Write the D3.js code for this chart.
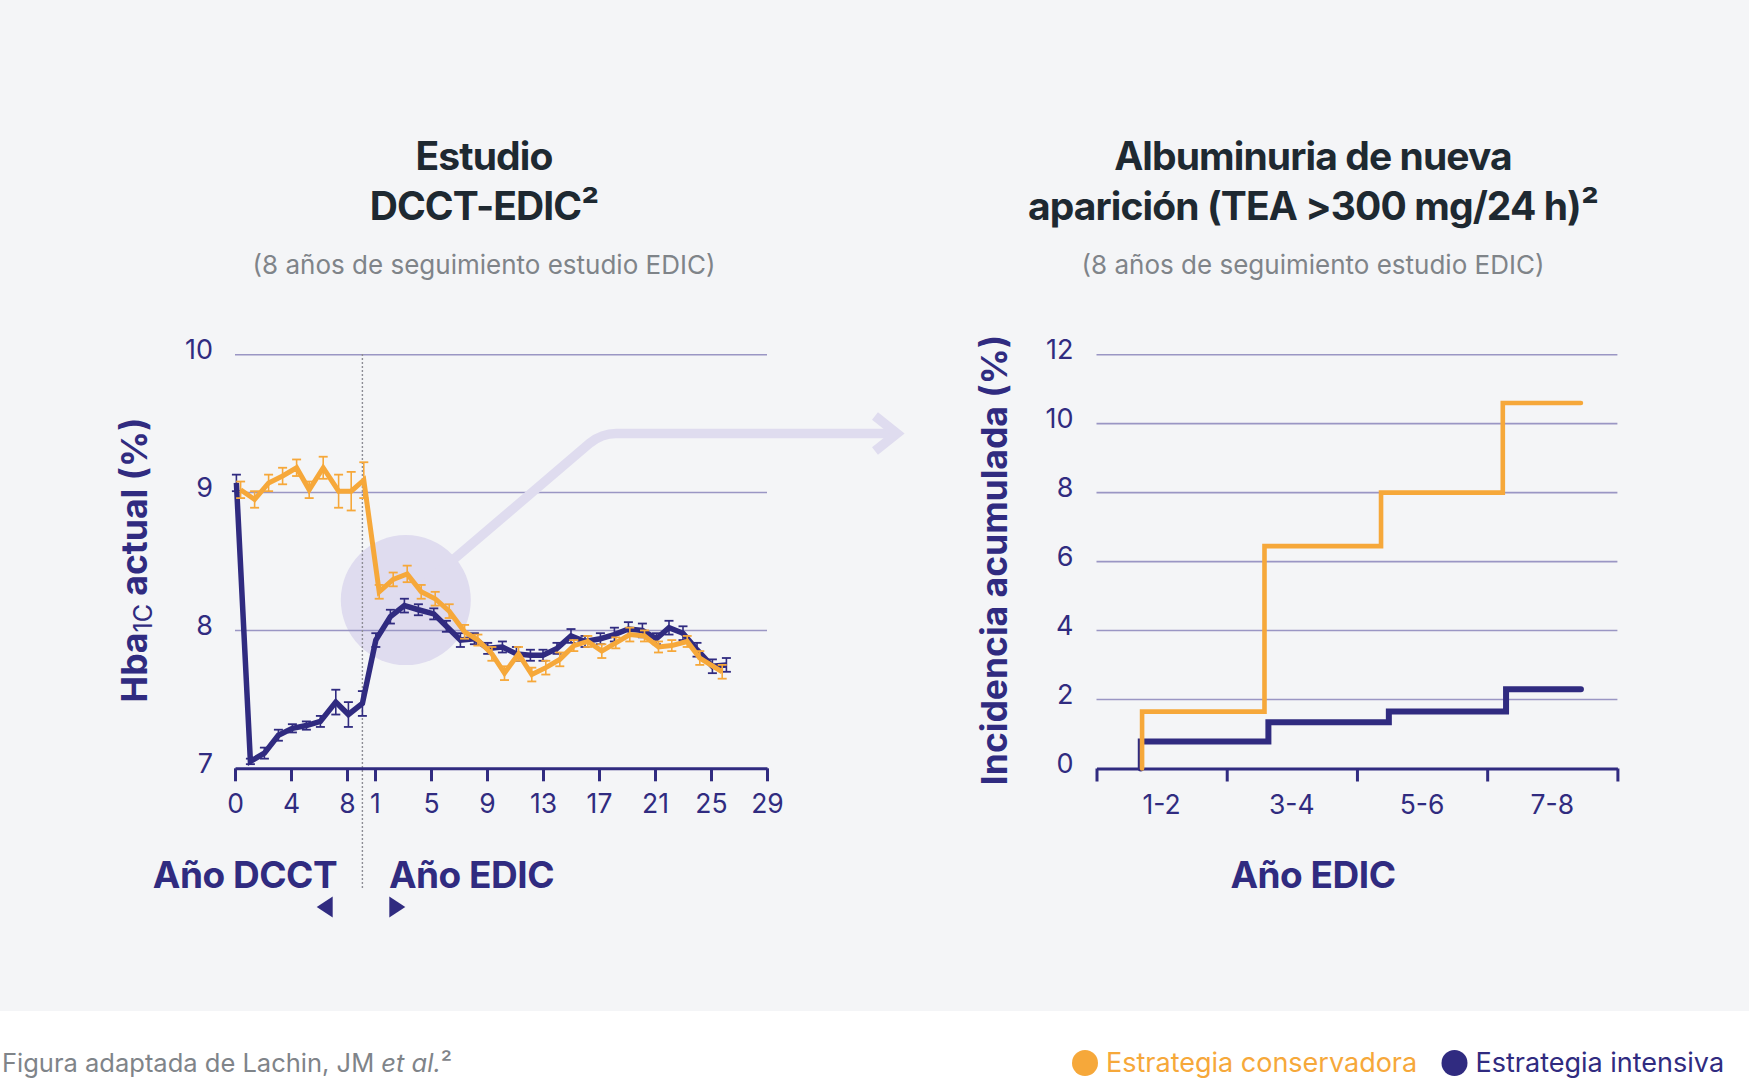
<!DOCTYPE html>
<html><head><meta charset="utf-8">
<script src="https://cdn.jsdelivr.net/npm/d3@7"></script>
<style>
html,body{margin:0;padding:0;background:#fff;}
svg{display:block;font-family:Inter,"Noto Sans",sans-serif;}
</style></head><body>
<svg id="c" width="1749" height="1083"></svg>
<script>
// ---------------- DATA ----------------
const seriesNames = ["Estrategia conservadora", "Estrategia intensiva"];

// Left chart: HbA1c (%) over time. x = continuous study time: DCCT year t, EDIC year e plotted at 9 + e
const dcctTicks = [0, 4, 8];
const edicTicks = [1, 5, 9, 13, 17, 21, 25, 29];
const hbaYTicks = [7, 8, 9, 10];

const convX = [0.4, 1.4, 2.4, 3.4, 4.4, 5.3, 6.3, 7.4, 8.3, 9.2,
  10.3, 11.3, 12.3, 13.3, 14.3, 15.3, 16.4, 17.35, 18.35, 19.25, 20.25, 21.2, 22.2, 23.2, 24.2,
  25.2, 26.2, 27.2, 28.2, 29.25, 30.25, 31.2, 32.3, 33.2, 34.8];
const convY = [9.02, 8.95, 9.07, 9.12, 9.18, 9.02, 9.18, 9.01, 9.01, 9.09,
  8.28, 8.37, 8.41, 8.28, 8.23, 8.14, 7.99, 7.93, 7.83, 7.69, 7.83, 7.68, 7.73, 7.79, 7.89,
  7.92, 7.85, 7.91, 7.97, 7.96, 7.88, 7.89, 7.92, 7.80, 7.70];
const convErr = [0.06, 0.06, 0.06, 0.06, 0.06, 0.06, 0.08, 0.12, 0.14, 0.13,
  0.05, 0.05, 0.06, 0.05, 0.05, 0.05, 0.05, 0.04, 0.05, 0.05, 0.05, 0.05, 0.05, 0.05, 0.04,
  0.04, 0.05, 0.04, 0.05, 0.04, 0.04, 0.04, 0.04, 0.05, 0.05];

const intX = [0.1, 1.1, 2.1, 3.1, 4.1, 5.1, 6.1, 7.2, 8.1, 9.1,
  10.06, 11.1, 12.1, 13.1, 14.2, 15.1, 16.1, 17.1, 18.05, 19.1, 20.1, 21.1, 22.0, 23.0, 24.0,
  25.0, 26.1, 27.1, 28.1, 29.1, 30.1, 31.0, 32.0, 33.0, 34.1, 35.1];
const intY = [9.07, 7.05, 7.11, 7.24, 7.29, 7.31, 7.34, 7.48, 7.39, 7.47,
  7.93, 8.10, 8.18, 8.15, 8.12, 8.03, 7.93, 7.94, 7.87, 7.88, 7.83, 7.82, 7.82, 7.87, 7.96,
  7.92, 7.94, 7.97, 8.01, 8.00, 7.94, 8.02, 7.98, 7.86, 7.74, 7.75];
const intErr = [0.06, 0.02, 0.04, 0.04, 0.03, 0.03, 0.04, 0.09, 0.09, 0.09,
  0.05, 0.05, 0.05, 0.04, 0.04, 0.04, 0.05, 0.04, 0.04, 0.04, 0.05, 0.04, 0.04, 0.04, 0.05,
  0.04, 0.04, 0.05, 0.05, 0.05, 0.04, 0.05, 0.05, 0.05, 0.05, 0.05];

// Right chart: cumulative incidence (%) by EDIC year (step function)
const albCats = ["1-2", "3-4", "5-6", "7-8"];
const albYTicks = [0, 2, 4, 6, 8, 10, 12];
const albConvX = [0.7, 0.7, 2.58, 4.37, 6.24, 7.44];
const albConvY = [0, 1.65, 6.45, 8.0, 10.6, 10.6];
const albIntX = [0.68, 0.68, 2.64, 4.49, 6.29, 7.44];
const albIntY = [0, 0.78, 1.34, 1.65, 2.3, 2.3];

// ---------------- STYLE ----------------
const ORANGE = "#f6a83a", NAVY = "#302b80", GRID = "#9a96c4", TITLE = "#1e2931", SUB = "#7f8489";
const svg = d3.select("#c");

svg.append("rect").attr("width", 1749).attr("height", 1011).attr("fill", "#f4f5f7");

// ---------------- LEFT CHART ----------------
const xL = d3.scaleLinear().domain([0, 38]).range([235, 767]);
const yL = d3.scaleLinear().domain([7, 10]).range([768.3, 354.7]);

// highlight circle behind
svg.append("circle").attr("cx", xL(12.2)).attr("cy", yL(8.22)).attr("r", 65).attr("fill", "#dfdcef");

// gridlines
svg.append("g").selectAll("line").data(hbaYTicks.filter(d => d > 7)).join("line")
  .attr("x1", xL(0)).attr("x2", xL(38)).attr("y1", d => yL(d)).attr("y2", d => yL(d))
  .attr("stroke", GRID).attr("stroke-width", 1.6);

// callout arrow
const ay = 433.5;
svg.append("path")
  .attr("d", `M${xL(12.2)},${yL(8.22)} L590,443 Q602,${ay} 616,${ay} L897,${ay}`)
  .attr("fill", "none").attr("stroke", "#dfdcef").attr("stroke-width", 9.5);
svg.append("path")
  .attr("d", `M875,416 L897,${ay} L875,451`)
  .attr("fill", "none").attr("stroke", "#dfdcef").attr("stroke-width", 9.5).attr("stroke-linejoin", "miter");

// dotted separator
svg.append("line").attr("x1", xL(9.1)).attr("x2", xL(9.1)).attr("y1", 354).attr("y2", 888)
  .attr("stroke", "#8d8d95").attr("stroke-width", 1.4).attr("stroke-dasharray", "2,2");

// y tick labels
const yAxL = svg.append("g").attr("transform", `translate(${xL(0)},0)`)
  .call(d3.axisLeft(yL).tickValues(hbaYTicks).tickSize(0).tickPadding(22).tickFormat(d3.format("d")));
yAxL.select(".domain").remove();
yAxL.selectAll("text").attr("font-size", 27).attr("fill", NAVY).attr("font-family", "Inter").attr("dy", "0.15em");

// x axis
const xTickVals = dcctTicks.concat(edicTicks.map(e => e + 9));
const xTickLab = dcctTicks.map(String).concat(edicTicks.map(String));
const xAxL = svg.append("g").attr("transform", `translate(0,${yL(7)})`)
  .call(d3.axisBottom(xL).tickValues(xTickVals).tickSize(13).tickSizeOuter(0)
    .tickFormat((d, i) => xTickLab[i]));
xAxL.select(".domain").attr("stroke", NAVY).attr("stroke-width", 3);
xAxL.selectAll(".tick line").attr("stroke", NAVY).attr("stroke-width", 3);
xAxL.selectAll("text").attr("font-size", 26.5).attr("fill", NAVY).attr("font-family", "Inter")
  .attr("y", 45).attr("dy", 0);

// series lines with error bars
function drawSeries(xs, ys, es, color, w) {
  const pts = xs.map((x, i) => ({ x, y: ys[i], e: es[i] }));
  const g = svg.append("g");
  g.append("path").datum(pts)
    .attr("d", d3.line().x(d => xL(d.x)).y(d => yL(d.y)))
    .attr("fill", "none").attr("stroke", color).attr("stroke-width", w).attr("stroke-linejoin", "miter");
  const eb = g.selectAll("g.eb").data(pts).join("g");
  eb.append("line").attr("x1", d => xL(d.x)).attr("x2", d => xL(d.x))
    .attr("y1", d => yL(d.y - d.e)).attr("y2", d => yL(d.y + d.e))
    .attr("stroke", color).attr("stroke-width", 1.6);
  [-1, 1].forEach(s => {
    eb.append("line").attr("x1", d => xL(d.x) - 4.5).attr("x2", d => xL(d.x) + 4.5)
      .attr("y1", d => yL(d.y + s * d.e)).attr("y2", d => yL(d.y + s * d.e))
      .attr("stroke", color).attr("stroke-width", 1.8);
  });
}
drawSeries(intX, intY, intErr, NAVY, 5.5);
drawSeries(convX, convY, convErr, ORANGE, 5);

// axis titles left
const yt = svg.append("text").attr("transform", "translate(147,560) rotate(-90)")
  .attr("text-anchor", "middle").attr("fill", NAVY).attr("font-size", 35.5).attr("font-weight", 700);
yt.append("tspan").text("Hba");
yt.append("tspan").text("1C").attr("font-size", 25).attr("font-weight", 400).attr("dy", 5);
yt.append("tspan").text(" actual (%)").attr("dy", -5);

svg.append("text").attr("x", 245).attr("y", 888).attr("text-anchor", "middle")
  .attr("fill", NAVY).attr("font-size", 37).attr("font-weight", 700).attr("letter-spacing", -0.5).text("Año DCCT");
svg.append("text").attr("x", 471.5).attr("y", 888).attr("text-anchor", "middle")
  .attr("fill", NAVY).attr("font-size", 37).attr("font-weight", 700).attr("letter-spacing", -0.5).text("Año EDIC");
svg.append("path").attr("d", "M316.7,907 L332.7,896.5 L332.7,917.5 Z").attr("fill", NAVY);
svg.append("path").attr("d", "M405.3,907 L389.3,896.5 L389.3,917.5 Z").attr("fill", NAVY);

// titles
function title(x, lines, sub) {
  lines.forEach((t, i) => svg.append("text").attr("x", x).attr("y", 170 + i * 50)
    .attr("text-anchor", "middle").attr("fill", TITLE).attr("font-size", 39).attr("font-weight", 700)
    .attr("letter-spacing", -0.9).text(t));
  svg.append("text").attr("x", x).attr("y", 274).attr("text-anchor", "middle")
    .attr("fill", SUB).attr("font-size", 26).text(sub);
}
title(484, ["Estudio", "DCCT-EDIC²"], "(8 años de seguimiento estudio EDIC)");
title(1313, ["Albuminuria de nueva", "aparición (TEA >300 mg/24 h)²"], "(8 años de seguimiento estudio EDIC)");

// ---------------- RIGHT CHART ----------------
const xR = d3.scaleLinear().domain([0, 8]).range([1096.5, 1617.4]);
const yR = d3.scaleLinear().domain([0, 12]).range([768.5, 354.7]);

svg.append("g").selectAll("line").data(albYTicks.filter(d => d > 0)).join("line")
  .attr("x1", xR(0)).attr("x2", xR(8)).attr("y1", d => yR(d)).attr("y2", d => yR(d))
  .attr("stroke", GRID).attr("stroke-width", 1.6);

const yAxR = svg.append("g").attr("transform", `translate(${xR(0)},0)`)
  .call(d3.axisLeft(yR).tickValues(albYTicks).tickSize(0).tickPadding(23).tickFormat(d3.format("d")));
yAxR.select(".domain").remove();
yAxR.selectAll("text").attr("font-size", 27).attr("fill", NAVY).attr("font-family", "Inter").attr("dy", "0.15em");

const xAxR = svg.append("g").attr("transform", `translate(0,${yR(0)})`)
  .call(d3.axisBottom(xR).tickValues([0, 2, 4, 6, 8]).tickSize(13).tickSizeOuter(0).tickFormat(""));
xAxR.select(".domain").attr("stroke", NAVY).attr("stroke-width", 3);
xAxR.selectAll(".tick line").attr("stroke", NAVY).attr("stroke-width", 3);
svg.append("g").selectAll("text").data(albCats).join("text")
  .attr("x", (d, i) => xR(1 + 2 * i)).attr("y", yR(0) + 45).attr("text-anchor", "middle")
  .attr("font-size", 26.5).attr("fill", NAVY).text(d => d);

const stepLine = d3.line().curve(d3.curveStepAfter).x(d => xR(d[0])).y(d => yR(d[1]));
svg.append("path").datum(albIntX.map((x, i) => [x, albIntY[i]])).attr("d", stepLine)
  .attr("fill", "none").attr("stroke", NAVY).attr("stroke-width", 6).attr("stroke-linecap", "round");
svg.append("path").datum(albConvX.map((x, i) => [x, albConvY[i]])).attr("d", stepLine)
  .attr("fill", "none").attr("stroke", ORANGE).attr("stroke-width", 4.6).attr("stroke-linecap", "round");

svg.append("text").attr("transform", "translate(1007,560) rotate(-90)").attr("text-anchor", "middle")
  .attr("fill", NAVY).attr("font-size", 35.5).attr("font-weight", 700).text("Incidencia acumulada (%)");
svg.append("text").attr("x", 1313).attr("y", 888).attr("text-anchor", "middle")
  .attr("fill", NAVY).attr("font-size", 37).attr("font-weight", 700).attr("letter-spacing", -0.5).text("Año EDIC");

// ---------------- FOOTER ----------------
const ft = svg.append("text").attr("x", 2).attr("y", 1072).attr("fill", SUB).attr("font-size", 25.5);
ft.append("tspan").text("Figura adaptada de Lachin, JM ");
ft.append("tspan").text("et al.").attr("font-style", "italic");
ft.append("tspan").text("²");

const legX = [1085, 1454.5];
const legColors = [ORANGE, NAVY];
seriesNames.forEach((n, i) => {
  svg.append("circle").attr("cx", legX[i]).attr("cy", 1063).attr("r", 13).attr("fill", legColors[i]);
  svg.append("text").attr("x", legX[i] + 21).attr("y", 1072).attr("fill", legColors[i])
    .attr("font-size", 27).text(n);
});
</script>
</body></html>
